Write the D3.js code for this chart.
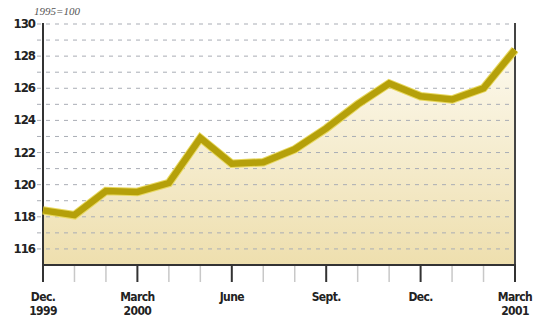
<!DOCTYPE html>

<head>
  <meta charset="utf-8">
  <script src="https://d3js.org/d3.v7.min.js"></script>
  <style>
    body { margin: 0; background: #fff; }
    * { font-family: "Liberation Sans Narrow", "DejaVu Sans Condensed", sans-serif; }
  </style>
</head>

<body>

  <svg width="537" height="322"></svg>

  <script>
    // months from Dec 1999 to March 2001 (index 0..15)
    const months = ['Dec 1999', 'Jan', 'Feb', 'Mar 2000', 'Apr', 'May', 'Jun', 'Jul', 'Aug', 'Sep', 'Oct', 'Nov', 'Dec 2000', 'Jan 2001', 'Feb 2001', 'Mar 2001'];
    const values = [118.4, 118.1, 119.6, 119.55, 120.1, 122.9, 121.3, 121.4, 122.2, 123.5, 125.0, 126.3, 125.5, 125.3, 126.0, 128.4];
    const yTicks = [116, 118, 120, 122, 124, 126, 128, 130];
    const gridValues = d3.range(116, 131);
    const majorTicks = [0, 3, 6, 9, 12, 15];
    const majorLabels = [['Dec.', '1999'], ['March', '2000'], ['June'], ['Sept.'], ['Dec.'], ['March', '2001']];
    const unitNote = '1995=100';

    const svg = d3.select('svg');

    const x = d3.scaleLinear().domain([0, 15]).range([43, 515]);
    const y = d3.scaleLinear().domain([115, 130]).range([265, 24]);

    const defs = svg.append('defs');
    const grad = defs.append('linearGradient')
      .attr('id', 'fillGrad')
      .attr('gradientUnits', 'userSpaceOnUse')
      .attr('x1', 0).attr('x2', 0)
      .attr('y1', y(130)).attr('y2', y(115));
    grad.append('stop').attr('offset', '0%').attr('stop-color', '#fefcf5');
    grad.append('stop').attr('offset', '100%').attr('stop-color', '#eedfae');

    const data = values.map((v, i) => ({ i, v }));

    // area fill
    svg.append('path')
      .datum(data)
      .attr('fill', 'url(#fillGrad)')
      .attr('d', d3.area().x(d => x(d.i)).y0(y(115)).y1(d => y(d.v)));

    // dashed grid
    svg.append('g')
      .selectAll('line')
      .data(gridValues)
      .join('line')
      .attr('x1', 37)
      .attr('x2', x(15))
      .attr('y1', d => y(d))
      .attr('y2', d => y(d))
      .attr('stroke', '#a9adb5')
      .attr('stroke-width', 1)
      .attr('stroke-dasharray', '4,5');

    // x ticks (minor + major)
    svg.append('g')
      .selectAll('line')
      .data(d3.range(0, 16))
      .join('line')
      .attr('x1', d => x(d))
      .attr('x2', d => x(d))
      .attr('y1', y(115))
      .attr('y2', 282)
      .attr('stroke', d => majorTicks.includes(d) ? '#333' : '#c8c8c8')
      .attr('stroke-width', d => majorTicks.includes(d) ? 2 : 1.5);

    // frame lines
    svg.append('line')
      .attr('x1', x(0)).attr('x2', x(0))
      .attr('y1', y(130) - 1).attr('y2', y(115))
      .attr('stroke', '#333').attr('stroke-width', 2);
    svg.append('line')
      .attr('x1', x(15)).attr('x2', x(15))
      .attr('y1', y(130) - 1).attr('y2', y(115))
      .attr('stroke', '#444').attr('stroke-width', 2);
    svg.append('line')
      .attr('x1', x(0) - 1).attr('x2', x(15) + 1)
      .attr('y1', y(115)).attr('y2', y(115))
      .attr('stroke', '#333').attr('stroke-width', 2);

    // data line
    const line = d3.line().x(d => x(d.i)).y(d => y(d.v));
    svg.append('path')
      .datum(data)
      .attr('fill', 'none')
      .attr('stroke', '#e8d860')
      .attr('stroke-width', 8.5)
      .attr('stroke-linejoin', 'miter')
      .attr('d', line);
    svg.append('path')
      .datum(data)
      .attr('fill', 'none')
      .attr('stroke', '#b5a00a')
      .attr('stroke-width', 6.5)
      .attr('stroke-linejoin', 'miter')
      .attr('d', line);

    // y labels
    svg.append('g')
      .selectAll('text')
      .data(yTicks)
      .join('text')
      .attr('x', 35)
      .attr('y', d => y(d) + 4)
      .attr('text-anchor', 'end')
      .attr('font-size', 13)
      .attr('font-weight', 'bold')
      .attr('letter-spacing', -1)
      .attr('fill', '#222')
      .text(d => d);

    // x labels
    const xl = svg.append('g')
      .selectAll('text')
      .data(majorTicks)
      .join('text')
      .attr('x', d => x(d))
      .attr('y', 301)
      .attr('text-anchor', 'middle')
      .attr('font-size', 12)
      .attr('font-weight', 'bold')
      .attr('letter-spacing', -0.6)
      .attr('fill', '#222');
    xl.each(function(d, k) {
      const t = d3.select(this);
      majorLabels[k].forEach((s, j) => {
        t.append('tspan').attr('x', x(d)).attr('dy', j === 0 ? 0 : 14).text(s);
      });
    });

    // unit note
    svg.append('text')
      .attr('x', 34)
      .attr('y', 15)
      .attr('font-size', 11)
      .attr('font-style', 'italic')
      .attr('fill', '#555')
      .style('font-family', '"Liberation Serif", serif')
      .text(unitNote);
  </script>
</body>
